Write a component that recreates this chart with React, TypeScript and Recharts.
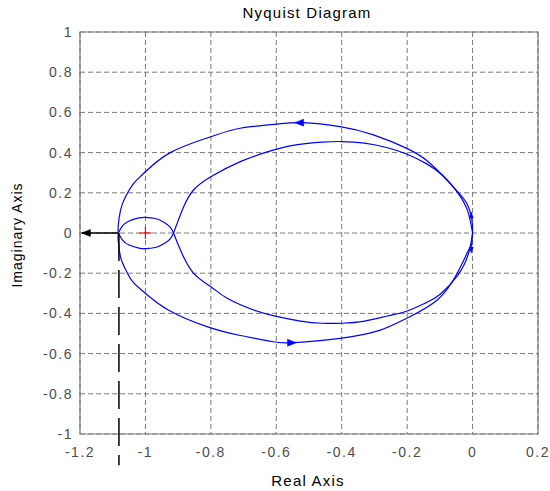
import React from 'react';
import {
    ComposedChart, Line, XAxis, YAxis, CartesianGrid, ReferenceArea,
    ReferenceLine, ReferenceDot,
} from 'recharts';

type Pt = { x: number; y: number };

const xTicks = [-1.2, -1, -0.8, -0.6, -0.4, -0.2, 0, 0.2];
const yTicks = [1, 0.8, 0.6, 0.4, 0.2, 0, -0.2, -0.4, -0.6, -0.8, -1];

// outer arc, upper half (from origin round to the left)
const outerUpper: Pt[] = [
    { x: 0, y: 0 }, { x: -0.002, y: 0.065 }, { x: -0.018, y: 0.148 }, { x: -0.059, y: 0.23 },
    { x: -0.13, y: 0.347 }, { x: -0.201, y: 0.421 }, { x: -0.303, y: 0.488 }, { x: -0.405, y: 0.529 },
    { x: -0.521, y: 0.549 }, { x: -0.598, y: 0.542 }, { x: -0.71, y: 0.521 }, { x: -0.8, y: 0.479 },
    { x: -0.924, y: 0.4 }, { x: -1.005, y: 0.297 }, { x: -1.036, y: 0.247 }, { x: -1.061, y: 0.18 },
    { x: -1.076, y: 0.114 }, { x: -1.083, y: 0.04 }, { x: -1.083, y: 0 },
];
const outerLower: Pt[] = [
    { x: 0, y: 0 }, { x: -0.003, y: -0.06 }, { x: -0.012, y: -0.085 }, { x: -0.047, y: -0.2 },
    { x: -0.108, y: -0.333 }, { x: -0.201, y: -0.424 }, { x: -0.282, y: -0.483 }, { x: -0.405, y: -0.524 },
    { x: -0.557, y: -0.546 }, { x: -0.62, y: -0.538 }, { x: -0.71, y: -0.51 }, { x: -0.812, y: -0.466 },
    { x: -0.93, y: -0.383 }, { x: -1.0, y: -0.3 }, { x: -1.04, y: -0.24 }, { x: -1.064, y: -0.17 },
    { x: -1.076, y: -0.12 }, { x: -1.083, y: -0.04 }, { x: -1.083, y: 0 },
];

// small loop round -1
const loopUpper: Pt[] = [
    { x: -1.083, y: 0 }, { x: -1.07, y: 0.035 }, { x: -1.05, y: 0.06 }, { x: -1.02, y: 0.075 },
    { x: -1.0, y: 0.078 }, { x: -0.97, y: 0.072 }, { x: -0.945, y: 0.055 }, { x: -0.925, y: 0.03 },
    { x: -0.914, y: 0 },
];
const loopLower: Pt[] = [
    { x: -1.083, y: 0 }, { x: -1.07, y: -0.035 }, { x: -1.05, y: -0.06 }, { x: -1.02, y: -0.075 },
    { x: -1.0, y: -0.078 }, { x: -0.97, y: -0.072 }, { x: -0.945, y: -0.055 }, { x: -0.925, y: -0.03 },
    { x: -0.914, y: 0 },
];

// inner arc
const innerUpper: Pt[] = [
    { x: -0.914, y: 0 }, { x: -0.903, y: 0.048 }, { x: -0.883, y: 0.131 }, { x: -0.853, y: 0.214 },
    { x: -0.8, y: 0.28 }, { x: -0.71, y: 0.355 }, { x: -0.62, y: 0.407 }, { x: -0.54, y: 0.438 },
    { x: -0.46, y: 0.452 }, { x: -0.4, y: 0.455 }, { x: -0.33, y: 0.447 }, { x: -0.26, y: 0.424 },
    { x: -0.2, y: 0.392 }, { x: -0.14, y: 0.344 }, { x: -0.09, y: 0.285 }, { x: -0.045, y: 0.2 },
    { x: -0.015, y: 0.11 }, { x: 0, y: 0 },
];
const innerLower: Pt[] = [
    { x: -0.914, y: 0 }, { x: -0.893, y: -0.085 }, { x: -0.853, y: -0.2 }, { x: -0.8, y: -0.267 },
    { x: -0.75, y: -0.325 }, { x: -0.669, y: -0.383 }, { x: -0.6, y: -0.415 }, { x: -0.526, y: -0.438 },
    { x: -0.46, y: -0.449 }, { x: -0.4, y: -0.449 }, { x: -0.33, y: -0.438 }, { x: -0.26, y: -0.413 },
    { x: -0.2, y: -0.388 }, { x: -0.14, y: -0.345 }, { x: -0.099, y: -0.305 }, { x: -0.045, y: -0.21 },
    { x: -0.012, y: -0.1 }, { x: 0, y: 0 },
];

const curves = [outerUpper, outerLower, loopUpper, loopLower, innerUpper, innerLower];

const directionArrows = [
    { x: -0.53, y: 0.549, dir: 'left' },
    { x: -0.552, y: -0.546, dir: 'right' },
    { x: -0.004, y: 0.09, dir: 'up' },
    { x: -0.004, y: -0.085, dir: 'down' },
];

const criticalPoint = { x: -1, y: 0 };
const crossing = { x: -1.081, y: 0 };
const marginArrowTip = { x: -1.194, y: 0 };
const dashEnd = { x: -1.081, y: -1.155 };

const BLUE = '#0000ff';
const font = 'Liberation Sans, Arial, sans-serif';

const Arrow = ({ cx, cy, dir, len, half, color }: any) => {
    let pts = '';
    if (dir === 'left') pts = `${cx - len / 2},${cy} ${cx + len / 2},${cy - half} ${cx + len / 2},${cy + half}`;
    if (dir === 'right') pts = `${cx + len / 2},${cy} ${cx - len / 2},${cy - half} ${cx - len / 2},${cy + half}`;
    if (dir === 'up') pts = `${cx},${cy - len / 2} ${cx - half},${cy + len / 2} ${cx + half},${cy + len / 2}`;
    if (dir === 'down') pts = `${cx},${cy + len / 2} ${cx - half},${cy - len / 2} ${cx + half},${cy - len / 2}`;
    return <polygon points={pts} fill={color} stroke={color} strokeWidth={0.5} />;
};

const tickStyle = { fill: '#4d4d4d', fontSize: 14, fontFamily: font, letterSpacing: 1.5 };

export default function App() {
    return (
        <div style={{ position: 'absolute', left: 0, top: 0, width: 550, height: 491, background: '#fff' }}>
            <ComposedChart width={550} height={491} margin={{ top: 32, right: 12, bottom: 0, left: 0 }}>
                <CartesianGrid stroke="#7a7a7a" strokeDasharray="5 3" />
                <XAxis
                    dataKey="x" type="number" domain={[-1.2, 0.2]} ticks={xTicks} height={57}
                    tickLine={false} axisLine={false} tickMargin={7} tick={tickStyle} allowDataOverflow
                />
                <YAxis
                    dataKey="y" type="number" domain={[-1, 1]} ticks={yTicks} width={80}
                    tickLine={false} axisLine={false} tickMargin={1} tick={tickStyle} allowDataOverflow
                />
                <ReferenceArea x1={-1.2} x2={0.2} y1={-1} y2={1} fill="none" stroke="#7a7a7a" strokeWidth={1.2} ifOverflow="visible" />
                {curves.map((c, i) => (
                    <Line key={i} data={c} dataKey="y" stroke={BLUE} strokeWidth={1.2} dot={false} activeDot={false} isAnimationActive={false} type="natural" />
                ))}
                {directionArrows.map((a, i) => (
                    <ReferenceDot
                        key={`a${i}`} x={a.x} y={a.y} ifOverflow="visible"
                        shape={(p: any) => <Arrow cx={p.cx} cy={p.cy} dir={a.dir} len={a.dir === 'up' || a.dir === 'down' ? 6 : 9} half={a.dir === 'up' || a.dir === 'down' ? 2 : 3.5} color={BLUE} />}
                    />
                ))}
                <ReferenceDot
                    x={criticalPoint.x} y={criticalPoint.y} ifOverflow="visible"
                    shape={(p: any) => (
                        <g stroke="#ff0000" strokeWidth={1.2}>
                            <line x1={p.cx - 6} y1={p.cy} x2={p.cx + 6} y2={p.cy} />
                            <line x1={p.cx} y1={p.cy - 6} x2={p.cx} y2={p.cy + 6} />
                        </g>
                    )}
                />
                <ReferenceLine segment={[crossing, marginArrowTip]} stroke="#000" strokeWidth={1.5} ifOverflow="visible" />
                <ReferenceLine segment={[crossing, dashEnd]} stroke="#000" strokeWidth={1.5} strokeDasharray="28 9" ifOverflow="visible" />
                <ReferenceDot
                    x={marginArrowTip.x} y={marginArrowTip.y} ifOverflow="visible"
                    shape={(p: any) => <Arrow cx={p.cx + 4} cy={p.cy} dir="left" len={9} half={3.5} color="#000" />}
                />
            </ComposedChart>
            <svg width={550} height={491} style={{ position: 'absolute', left: 0, top: 0, pointerEvents: 'none' }}>
                <text x={307} y={18} textAnchor="middle" fontFamily={font} fontSize={15} letterSpacing={1.2} fill="#000">Nyquist Diagram</text>
                <text x={308} y={486} textAnchor="middle" fontFamily={font} fontSize={15} letterSpacing={1.2} fill="#000">Real Axis</text>
                <text x={22} y={235} transform="rotate(-90, 22, 235)" textAnchor="middle" fontFamily={font} fontSize={14} letterSpacing={1} fill="#000">Imaginary Axis</text>
            </svg>
        </div>
    );
}
